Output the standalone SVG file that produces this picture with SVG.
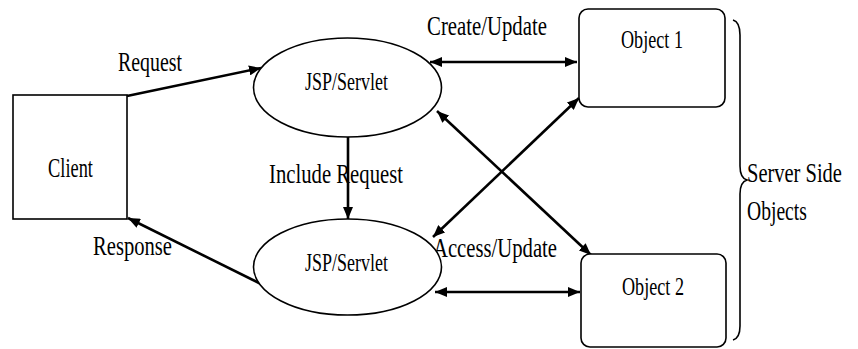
<svg xmlns="http://www.w3.org/2000/svg" width="858" height="349" viewBox="0 0 858 349">
  <style>
    .shape { fill: #fff; stroke: #000; stroke-width: 1.6; }
    .link { fill: none; stroke: #000; stroke-width: 2.6; }
    .brace { fill: none; stroke: #000; stroke-width: 1.6; }
    text { font-family: "Liberation Serif", "Times New Roman", serif; fill: #000; }
    .lbl { font-size: 28px; }
    .node { font-size: 26px; text-anchor: middle; }
    .mid { text-anchor: middle; }
  </style>
  <defs>
    <marker id="head" viewBox="0 0 12 10" refX="12" refY="5" markerWidth="12" markerHeight="10" markerUnits="userSpaceOnUse" orient="auto-start-reverse">
      <path d="M0,0 L12,5 L0,10 z" fill="#000"/>
    </marker>
  </defs>

  <rect width="858" height="349" fill="#fff"/>

  <!-- connectors -->
  <g id="connectors">
    <line class="link" x1="127" y1="96" x2="261" y2="68" marker-end="url(#head)"/>
    <line class="link" x1="261" y1="284" x2="128" y2="218" marker-end="url(#head)"/>
    <line class="link" x1="348" y1="137" x2="348" y2="219" stroke-width="2" marker-end="url(#head)"/>
    <line class="link" x1="430" y1="62" x2="577" y2="62" marker-start="url(#head)" marker-end="url(#head)"/>
    <line class="link" x1="435" y1="292" x2="580" y2="292" marker-start="url(#head)" marker-end="url(#head)"/>
    <line class="link" x1="437" y1="111" x2="591" y2="255" marker-start="url(#head)" marker-end="url(#head)"/>
    <line class="link" x1="433" y1="237" x2="579" y2="98" marker-start="url(#head)" marker-end="url(#head)"/>
  </g>

  <!-- connector labels (condensed serif) -->
  <g id="labels">
    <text class="lbl mid" transform="translate(150,71) scale(0.71,1)">Request</text>
    <text class="lbl mid" transform="translate(336,183) scale(0.74,1)">Include Request</text>
    <text class="lbl mid" transform="translate(132.5,255) scale(0.736,1)">Response</text>
    <text class="lbl mid" transform="translate(487,35) scale(0.742,1)">Create/Update</text>
    <text class="lbl mid" transform="translate(495,257) scale(0.739,1)">Access/Update</text>
  </g>

  <g id="client">
    <rect class="shape" x="13" y="95" width="114" height="124"/>
    <text class="node" style="font-size:27px" transform="translate(70.5,177) scale(0.68,1)">Client</text>
  </g>

  <g id="servlet1">
    <ellipse class="shape" cx="347.5" cy="87.5" rx="94" ry="49.5"/>
    <text class="node" style="font-size:25px" transform="translate(346.5,90) scale(0.72,1)">JSP/Servlet</text>
  </g>

  <g id="servlet2">
    <ellipse class="shape" cx="347.5" cy="267" rx="94" ry="48"/>
    <text class="node" style="font-size:25px" transform="translate(346.5,271) scale(0.72,1)">JSP/Servlet</text>
  </g>

  <g id="object1">
    <rect class="shape" x="579" y="9" width="146" height="98" rx="9"/>
    <text class="node" style="font-size:25px" transform="translate(652,48) scale(0.726,1)">Object 1</text>
  </g>

  <g id="object2">
    <rect class="shape" x="581" y="254" width="145" height="93" rx="9"/>
    <text class="node" style="font-size:25px" transform="translate(653,295) scale(0.726,1)">Object 2</text>
  </g>

  <!-- grouping brace for the object boxes -->
  <g id="server-side">
    <path class="brace" d="M733,20 Q740,22 740,35 L740,166 Q740,178 747,180 Q740,182 740,194 L740,326 Q740,338 733,340"/>
    <text class="lbl" transform="translate(747,182) scale(0.731,1)">Server Side</text>
    <text class="lbl" transform="translate(747,220) scale(0.70,1)">Objects</text>
  </g>
</svg>
